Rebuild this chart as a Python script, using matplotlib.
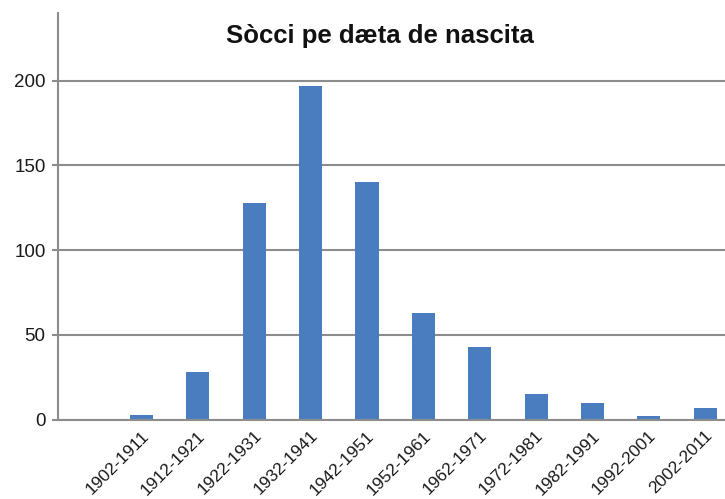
import matplotlib
matplotlib.use("Agg")
import matplotlib.pyplot as plt
import matplotlib.transforms as mtransforms
import numpy as np

# dati
periodi = ["1902-1911", "1912-1921", "1922-1931", "1932-1941", "1942-1951",
           "1952-1961", "1962-1971", "1972-1981", "1982-1991", "1992-2001",
           "2002-2011"]
socci = [3, 28, 128, 197, 140, 63, 43, 15, 10, 2, 7]
y_ticks = [0, 50, 100, 150, 200]

plt.rcParams['font.family'] = ['Liberation Sans', 'DejaVu Sans']

grigio = "#8c8c8c"
blu = "#4a7dc0"

fig = plt.figure(figsize=(7.25, 4.99), dpi=100)
ax = fig.add_axes([0.08, 0.159, 0.92, 0.815])

x = np.arange(len(periodi))
ax.bar(x, socci, width=0.41, color=blu, zorder=3)

ax.set_xlim(-1.48, 10.35)
ax.set_ylim(0, 240)
ax.set_yticks(y_ticks)
ax.yaxis.grid(True, color=grigio, linewidth=1.5, zorder=1)
ax.set_axisbelow(True)

for s in ["top", "right"]:
    ax.spines[s].set_visible(False)
for s in ["left", "bottom"]:
    ax.spines[s].set_color(grigio)
    ax.spines[s].set_linewidth(1.5)
    ax.spines[s].set_zorder(4)

ax.tick_params(axis="y", length=4, width=1.5, color=grigio, pad=5,
               labelsize=13.5, labelcolor="#1a1a1a")
ax.tick_params(axis="x", length=0, pad=6, labelsize=12.5, labelcolor="#1a1a1a")

ax.set_xticks(x)
ax.set_xticklabels(periodi, rotation=45, ha="right")
offset = mtransforms.ScaledTranslation(10 / 100, 0, fig.dpi_scale_trans)
for lab in ax.get_xticklabels():
    lab.set_transform(lab.get_transform() + offset)

fig.text(380 / 725, (499 - 43) / 499, "Sòcci pe dæta de nascita",
         ha="center", va="baseline", fontsize=18.5, fontweight="bold",
         color="#111111")

fig.savefig("out.png", dpi=100)
